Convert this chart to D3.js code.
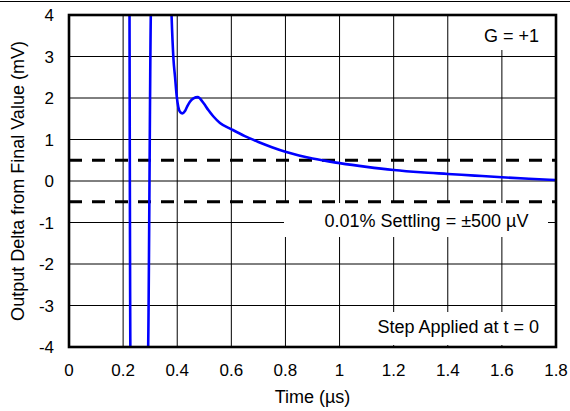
<!DOCTYPE html>
<html><head><meta charset="utf-8">
<script src="https://cdn.jsdelivr.net/npm/d3@7"></script>
<style>body{margin:0;background:#fff}svg{display:block}text{font-family:"Liberation Sans",Arial,sans-serif;fill:#000}</style>
</head><body>
<script>
const timeUs = [0.2235,0.2276,0.2905,0.3045,0.376,0.379,0.386,0.392,0.398,0.404,0.411,0.419,0.428,0.437,0.447,0.46,0.476,0.497,0.515,0.533,0.558,0.601,0.65,0.7,0.75,0.8,0.85,0.9,1.0,1.1,1.2,1.3,1.4,1.5,1.6,1.7,1.8];
const deltaMv = [4.6,-4.6,-4.6,4.6,4.6,4.0,2.95,2.5,2.05,1.78,1.66,1.63,1.68,1.8,1.91,1.99,2.02,1.88,1.71,1.56,1.4,1.245,1.08,0.94,0.815,0.705,0.615,0.54,0.43,0.34,0.265,0.21,0.17,0.13,0.09,0.055,0.024];
const xTicks = [0,0.2,0.4,0.6,0.8,1.0,1.2,1.4,1.6,1.8];
const xTickLabels = ["0","0.2","0.4","0.6","0.8","1","1.2","1.4","1.6","1.8"];
const yTicks = [-4,-3,-2,-1,0,1,2,3,4];
const settlingBand = [0.5,-0.5];

const W=570,H=411, L=69,R=556,T=15,B=347;
const svg=d3.select("body").append("svg").attr("width",W).attr("height",H);
const x=d3.scaleLinear().domain([0,1.8]).range([L,R]);
const y=d3.scaleLinear().domain([-4,4]).range([B,T]);

svg.append("line").attr("x1",0).attr("x2",W).attr("y1",1.5).attr("y2",1.5).attr("stroke","#000").attr("stroke-width",1);

const g=svg.append("g");
g.selectAll(".vg").data(xTicks).join("line").attr("x1",d=>x(d)).attr("x2",d=>x(d)).attr("y1",T).attr("y2",B).attr("stroke","#000").attr("stroke-width",1);
g.selectAll(".hg").data(yTicks).join("line").attr("x1",L).attr("x2",R).attr("y1",d=>y(d)).attr("y2",d=>y(d)).attr("stroke","#000").attr("stroke-width",1);

function box(x0,y0,x1,y1){g.append("rect").attr("x",x0).attr("y",y0).attr("width",x1-x0).attr("height",y1-y0).attr("fill","#fff");}
box(476,T+1,R,50);
box(284,203,548,237);
box(368,312,R,B-2);

g.selectAll(".dl").data(settlingBand).join("line").attr("x1",L).attr("x2",R).attr("y1",d=>y(d)).attr("y2",d=>y(d))
 .attr("stroke","#000").attr("stroke-width",3).attr("stroke-dasharray","13,10");

svg.append("clipPath").attr("id","cp").append("rect").attr("x",L).attr("y",T).attr("width",R-L).attr("height",B-T);
const pts=timeUs.map((t,i)=>[t,deltaMv[i]]);
svg.append("path").datum(pts).attr("clip-path","url(#cp)")
 .attr("d",d3.line().x(d=>x(d[0])).y(d=>y(d[1])).curve(d3.curveMonotoneX))
 .attr("fill","none").attr("stroke","#0000ff").attr("stroke-width",2.6);

svg.append("rect").attr("x",L).attr("y",T).attr("width",R-L).attr("height",B-T).attr("fill","none").attr("stroke","#000").attr("stroke-width",2.6);

const fs=17, fa=18;
svg.selectAll(".xt").data(xTicks).join("text").attr("x",d=>x(d)).attr("y",376).attr("text-anchor","middle").attr("font-size",fs).text((d,i)=>xTickLabels[i]);
svg.selectAll(".yt").data(yTicks).join("text").attr("x",54).attr("y",d=>y(d)+6).attr("text-anchor","end").attr("font-size",fs).text(d=>d);

svg.append("text").attr("x",(L+R)/2).attr("y",403).attr("text-anchor","middle").attr("font-size",fa).text("Time (µs)");
svg.append("text").attr("transform",`translate(24,${(T+B)/2}) rotate(-90)`).attr("text-anchor","middle").attr("font-size",fa).text("Output Delta from Final Value (mV)");

svg.append("text").attr("x",539).attr("y",42).attr("text-anchor","end").attr("font-size",fa).text("G = +1");
svg.append("text").attr("x",426.5).attr("y",227).attr("text-anchor","middle").attr("font-size",fa).text("0.01% Settling = ±500 µV");
svg.append("text").attr("x",539).attr("y",333).attr("text-anchor","end").attr("font-size",fa).text("Step Applied at t = 0");
</script>
</body></html>
